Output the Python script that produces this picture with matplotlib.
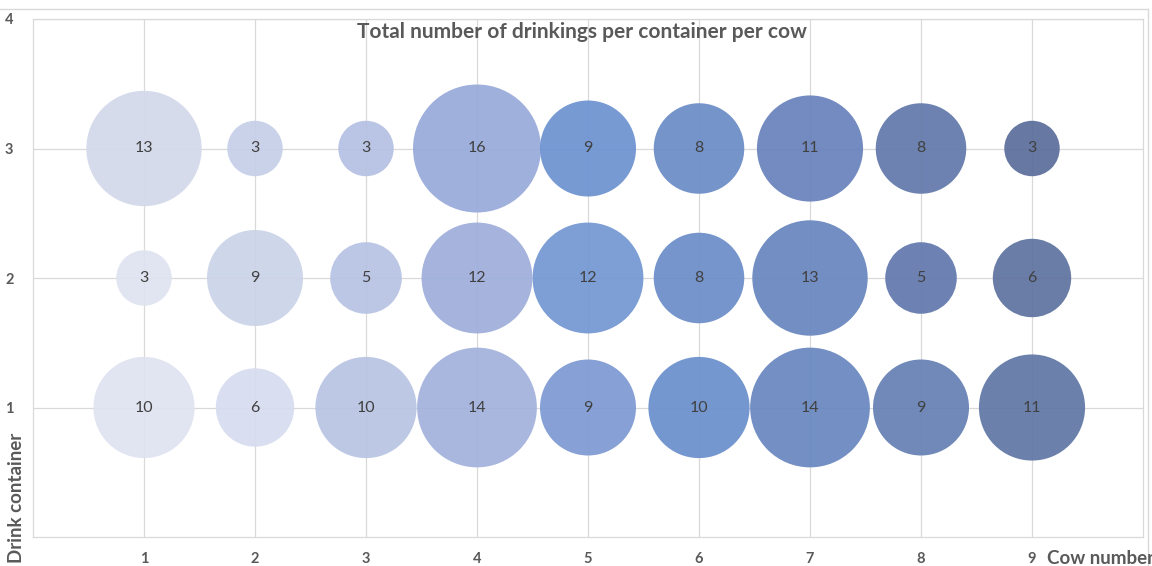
import matplotlib
matplotlib.use("Agg")
import matplotlib.pyplot as plt
from matplotlib.lines import Line2D

# ---- data ----
cows = [1, 2, 3, 4, 5, 6, 7, 8, 9]
containers = [1, 2, 3]
drinks_container1 = [10, 6, 10, 14, 9, 10, 14, 9, 11]
drinks_container2 = [3, 9, 5, 12, 12, 8, 13, 5, 6]
drinks_container3 = [13, 3, 3, 16, 9, 8, 11, 8, 3]
x_ticks = [1, 2, 3, 4, 5, 6, 7, 8, 9]
y_ticks = [1, 2, 3, 4]

title = "Total number of drinkings per container per cow"
x_title = "Cow number"
y_title = "Drink container"

# ---- style ----
colors_c1 = ["#dfe3f0", "#d7dcef", "#b8c4e2", "#a3b2dd", "#7e9ad4", "#6b8fcc", "#6887c0", "#6580b3", "#6077a5"]
colors_c2 = ["#dfe3f0", "#cbd3e8", "#b7c2e3", "#9eaedb", "#7497d3", "#6b8dc8", "#6886bf", "#6279ad", "#5f739f"]
colors_c3 = ["#d3d9eb", "#c6cfe8", "#b5c0e2", "#97aad9", "#6e92d0", "#6b8cc6", "#6882bb", "#6279aa", "#5b6e9c"]

W, H, DPI = 1152, 566, 100
plt.rcParams['font.family'] = ['Lato', 'DejaVu Sans']

fig = plt.figure(figsize=(W / DPI, H / DPI), dpi=DPI)
ax = fig.add_axes([33 / W, 1 - 537 / H, (1143 - 33) / W, (537 - 19) / H])

max_val = 16
max_diam_px = 128

def sizes(vals):
    out = []
    for v in vals:
        d_px = max_diam_px * (v / max_val) ** 0.5
        d_pt = d_px * 72 / DPI
        out.append(d_pt ** 2)
    return out

ax.set_xlim(0, 10)
ax.set_ylim(0, 4)
ax.set_axisbelow(True)
ax.grid(True, color="#d9d9d9", linewidth=0.9)

for yval, vals, cols in [(1, drinks_container1, colors_c1),
                         (2, drinks_container2, colors_c2),
                         (3, drinks_container3, colors_c3)]:
    ax.scatter(cows, [yval] * len(cows), s=sizes(vals), c=cols, alpha=0.93,
               edgecolors="none", zorder=3)
    for xc, v in zip(cows, vals):
        ax.text(xc, yval, str(v), ha="center", va="center", fontsize=11.5,
                color="#404040", zorder=4)

ax.set_xticks(x_ticks)
ax.set_yticks(y_ticks)
ax.tick_params(length=0, labelsize=10.5, labelcolor="#595959")
ax.tick_params(axis="x", pad=11)
ax.tick_params(axis="y", pad=14)
for lab in ax.get_xticklabels() + ax.get_yticklabels():
    lab.set_fontweight("bold")
for sp in ax.spines.values():
    sp.set_color("#d9d9d9")
    sp.set_linewidth(0.9)

fig.text(582 / W, 1 - 32 / H, title, ha="center", va="center", fontsize=15,
         fontweight="bold", color="#595959")
fig.text(1047 / W, 1 - 558 / H, x_title, ha="left", va="center", fontsize=13.5,
         fontweight="bold", color="#595959")
fig.text(17 / W, 1 - 563 / H, y_title, ha="center", va="bottom", rotation=90,
         fontsize=13.5, fontweight="bold", color="#595959")

# outer chart border (top and right)
fig.add_artist(Line2D([0, 1148 / W], [1 - 9 / H, 1 - 9 / H], transform=fig.transFigure,
                      color="#d9d9d9", linewidth=1))
fig.add_artist(Line2D([1148 / W, 1148 / W], [0, 1 - 9 / H], transform=fig.transFigure,
                      color="#d9d9d9", linewidth=1))

fig.savefig("out.png", dpi=DPI)
